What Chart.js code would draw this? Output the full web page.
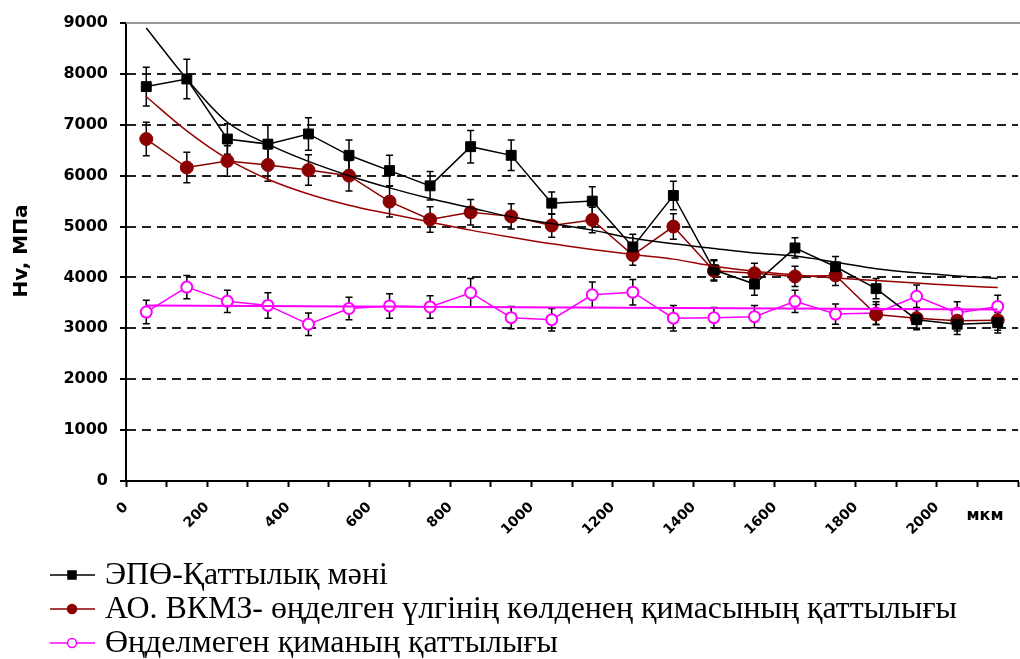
<!DOCTYPE html>
<html>
<head>
<meta charset="utf-8">
<script src="https://cdn.jsdelivr.net/npm/chart.js@4.4.0/dist/chart.umd.min.js"></script>
<style>
  body { margin: 0; background: #fff; }
  #wrap { width: 1020px; height: 659px; }
</style>
</head>
<body>
<div id="wrap"><canvas id="hvChart" width="1020" height="659"></canvas></div>
<script>
// depth of measurement, мкм
const depth = [50, 150, 250, 350, 450, 550, 650, 750, 850, 950, 1050, 1150, 1250, 1350, 1450, 1550, 1650, 1750, 1850, 1950, 2050, 2150];

// hardness values, МПа
const epoHardness  = [7750, 7900, 6720, 6620, 6820, 6400, 6100, 5800, 6570, 6400, 5460, 5500, 4600, 5610, 4150, 3870, 4580, 4210, 3780, 3170, 3080, 3110];
const vkmzHardness = [6720, 6160, 6290, 6210, 6110, 6000, 5490, 5140, 5280, 5200, 5020, 5130, 4440, 5000, 4130, 4080, 4020, 4040, 3270, 3200, 3150, 3160];
const rawHardness  = [3320, 3810, 3530, 3450, 3080, 3390, 3440, 3420, 3700, 3210, 3170, 3660, 3710, 3200, 3210, 3230, 3530, 3280, 3300, 3630, 3300, 3430];

// error bar half-heights
const epoError  = [380, 390, 300, 370, 320, 300, 300, 280, 320, 300, 220, 280, 250, 280, 200, 220, 200, 200, 200, 200, 200, 200];
const vkmzError = [330, 300, 300, 320, 300, 300, 300, 250, 250, 250, 230, 250, 200, 250, 200, 200, 200, 200, 200, 200, 200, 200];
const rawError  = [230, 230, 220, 250, 220, 220, 240, 220, 280, 220, 220, 250, 250, 250, 200, 220, 220, 200, 220, 220, 220, 220];

// trend lines
const epoTrend  = [8900, 7900, 7050, 6620, 6280, 6000, 5760, 5550, 5370, 5190, 5060, 4930, 4770, 4660, 4570, 4480, 4420, 4300, 4170, 4090, 4030, 3980];
const vkmzTrend = [7550, 6880, 6330, 5930, 5640, 5420, 5250, 5090, 4930, 4790, 4660, 4550, 4450, 4360, 4220, 4120, 4050, 3990, 3940, 3890, 3840, 3800];
const rawTrendX = [50, 2150];
const rawTrend  = [3450, 3370];

const xTickLabels = [0, 200, 400, 600, 800, 1000, 1200, 1400, 1600, 1800, 2000];

const seriesNames = [
  'ЭПӨ-Қаттылық мәні',
  'АО. ВКМЗ- өңделген үлгінің көлденең қимасының қаттылығы',
  'Өңделмеген қиманың қаттылығы'
];

const toPoints = (xs, ys) => ys.map((v, i) => ({ x: xs[i], y: v }));

// draws the vertical error bars under the markers
const errorBars = {
  id: 'errorBars',
  beforeDatasetsDraw(chart) {
    const { ctx, scales: { x, y } } = chart;
    ctx.save();
    ctx.strokeStyle = '#000';
    ctx.lineWidth = 1.5;
    chart.data.datasets.forEach((ds) => {
      if (!ds.errors) return;
      ds.data.forEach((p, j) => {
        const px = x.getPixelForValue(p.x);
        const top = y.getPixelForValue(p.y + ds.errors[j]);
        const bot = y.getPixelForValue(p.y - ds.errors[j]);
        ctx.beginPath();
        ctx.moveTo(px, top); ctx.lineTo(px, bot);
        ctx.moveTo(px - 3.5, top); ctx.lineTo(px + 3.5, top);
        ctx.moveTo(px - 3.5, bot); ctx.lineTo(px + 3.5, bot);
        ctx.stroke();
      });
    });
    ctx.restore();
  }
};

// top border, axis titles and the legend under the chart
const extras = {
  id: 'extras',
  afterDraw(chart) {
    const { ctx, chartArea, scales: { y } } = chart;
    ctx.save();

    // solid top line at 9000
    ctx.strokeStyle = '#999';
    ctx.lineWidth = 2;
    const yt = y.getPixelForValue(9000);
    ctx.beginPath();
    ctx.moveTo(chartArea.left, yt);
    ctx.lineTo(1020, yt);
    ctx.stroke();

    // y title
    ctx.fillStyle = '#000';
    ctx.font = 'bold 20px "DejaVu Sans"';
    ctx.textAlign = 'center';
    ctx.textBaseline = 'middle';
    ctx.translate(22, 251);
    ctx.rotate(-Math.PI / 2);
    ctx.fillText('Hv, МПа', 0, 0);
    ctx.restore();

    ctx.save();
    ctx.fillStyle = '#000';
    ctx.font = 'bold 16px "DejaVu Sans"';
    ctx.textAlign = 'center';
    ctx.textBaseline = 'middle';
    ctx.fillText('мкм', 985, 516);
    ctx.restore();

    // legend
    const rows = chart.data.datasets.filter(ds => ds.errors);
    ctx.save();
    ctx.font = '32px "Liberation Serif"';
    const longest = Math.max(...rows.map(ds => ctx.measureText(ds.label).width));
    const sx = 852 / longest;
    rows.forEach((ds, i) => {
      const cy = 575 + i * 34;
      ctx.strokeStyle = ds.borderColor;
      ctx.lineWidth = 1.5;
      ctx.beginPath();
      ctx.moveTo(50, cy); ctx.lineTo(95, cy);
      ctx.stroke();
      ctx.fillStyle = ds.pointBackgroundColor;
      ctx.strokeStyle = ds.pointBorderColor;
      ctx.lineWidth = 1.5;
      ctx.beginPath();
      if (ds.pointStyle === 'rect') {
        ctx.rect(68, cy - 4, 8, 8);
      } else {
        ctx.arc(72, cy, 4.5, 0, Math.PI * 2);
      }
      ctx.fill();
      ctx.stroke();
      ctx.save();
      ctx.fillStyle = '#000';
      ctx.textBaseline = 'middle';
      ctx.translate(105, cy + 1);
      ctx.scale(sx, 1);
      ctx.fillText(ds.label, 0, 0);
      ctx.restore();
    });
    ctx.restore();
  }
};

const ctx = document.getElementById('hvChart').getContext('2d');

new Chart(ctx, {
  type: 'line',
  data: {
    datasets: [
      {
        label: seriesNames[0] + ' тренд',
        data: toPoints(depth, epoTrend),
        borderColor: '#000',
        borderWidth: 1.5,
        pointRadius: 0,
        tension: 0.4,
        cubicInterpolationMode: 'monotone'
      },
      {
        label: seriesNames[1] + ' тренд',
        data: toPoints(depth, vkmzTrend),
        borderColor: '#9a0000',
        borderWidth: 1.5,
        pointRadius: 0,
        tension: 0.4,
        cubicInterpolationMode: 'monotone'
      },
      {
        label: seriesNames[2] + ' тренд',
        data: toPoints(rawTrendX, rawTrend),
        borderColor: '#ff00ff',
        borderWidth: 2,
        pointRadius: 0
      },
      {
        label: seriesNames[0],
        data: toPoints(depth, epoHardness),
        errors: epoError,
        borderColor: '#000',
        borderWidth: 1.5,
        pointStyle: 'rect',
        pointRadius: 7,
        pointBackgroundColor: '#000',
        pointBorderColor: '#000',
        pointBorderWidth: 1
      },
      {
        label: seriesNames[1],
        data: toPoints(depth, vkmzHardness),
        errors: vkmzError,
        borderColor: '#8b0000',
        borderWidth: 1.5,
        pointStyle: 'circle',
        pointRadius: 6.5,
        pointBackgroundColor: '#8b0000',
        pointBorderColor: '#8b0000',
        pointBorderWidth: 1
      },
      {
        label: seriesNames[2],
        data: toPoints(depth, rawHardness),
        errors: rawError,
        borderColor: '#ff00ff',
        borderWidth: 1.5,
        pointStyle: 'circle',
        pointRadius: 5.5,
        pointBackgroundColor: '#fff',
        pointBorderColor: '#ff00ff',
        pointBorderWidth: 2
      }
    ]
  },
  options: {
    responsive: false,
    animation: false,
    events: [],
    layout: { autoPadding: false, padding: { top: 23, right: 2, left: 0, bottom: 0 } },
    plugins: {
      legend: { display: false },
      tooltip: { enabled: false }
    },
    scales: {
      x: {
        type: 'linear',
        min: 0,
        max: 2200,
        afterFit: (scale) => {
          scale.height = 178;
          scale.paddingRight = 0;
          scale.paddingLeft = 0;
        },
        ticks: {
          stepSize: 100,
          autoSkip: false,
          minRotation: 45,
          maxRotation: 45,
          padding: 12,
          color: '#000',
          font: { family: 'DejaVu Sans', size: 14, weight: 'bold' },
          callback: (v) => xTickLabels.includes(v) ? String(v) : ''
        },
        grid: {
          drawOnChartArea: false,
          tickLength: 6,
          tickColor: '#000',
          tickWidth: 2
        },
        border: { color: '#000', width: 2 }
      },
      y: {
        min: 0,
        max: 9000,
        afterFit: (scale) => { scale.width = 126; },
        ticks: {
          stepSize: 1000,
          padding: 12,
          color: '#000',
          font: { family: 'DejaVu Sans', size: 16, weight: 'bold' },
          callback: (v) => String(v)
        },
        grid: {
          color: (c) => (c.tick && (c.tick.value === 0 || c.tick.value === 9000)) ? 'rgba(0,0,0,0)' : '#222',
          lineWidth: 2,
          tickLength: 6,
          tickColor: '#000',
          tickWidth: 2
        },
        border: { color: '#000', width: 2, dash: [9, 6] }
      }
    }
  },
  plugins: [errorBars, extras]
});
</script>
</body>
</html>
